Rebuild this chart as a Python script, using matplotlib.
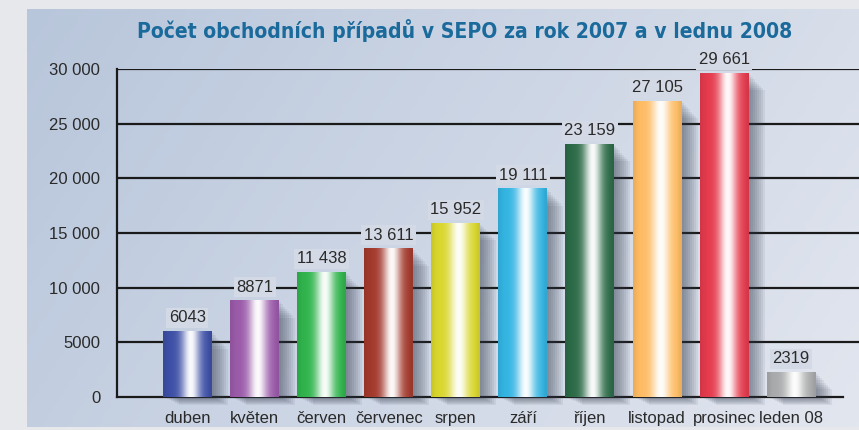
import numpy as np
import matplotlib
matplotlib.use("Agg")
import matplotlib.pyplot as plt
from matplotlib import font_manager
from matplotlib.patches import Rectangle
from matplotlib.colors import to_rgb

months = ["duben", "květen", "červen", "červenec", "srpen", "září",
          "říjen", "listopad", "prosinec", "leden 08"]
cases = [6043, 8871, 11438, 13611, 15952, 19111, 23159, 27105, 29661, 2319]
bar_colors = ["#3d4fa6", "#9a5aa9", "#2fb34c", "#a3392c", "#d9d62c",
              "#33b4e2", "#2b6a47", "#ffbb62", "#e43a4c", "#a9aaab"]
yticks = [0, 5000, 10000, 15000, 20000, 25000, 30000]
ytick_labels = ["0", "5000", "10 000", "15 000", "20 000", "25 000", "30 000"]
title = "Počet obchodních případů v SEPO za rok 2007 a v lednu 2008"


def fmt(v):
    # Czech style: space as thousands separator only for 5+ digits
    return f"{v:,}".replace(",", " ") if v >= 10000 else str(v)


def narrow_font():
    # condensed bold face for the title, whichever is installed
    for fam, stretch in [("Liberation Sans Narrow", "condensed"),
                         ("DejaVu Sans", "condensed"),
                         ("Roboto", "normal")]:
        fp = font_manager.FontProperties(family=fam, weight="bold", stretch=stretch)
        try:
            path = font_manager.findfont(fp, fallback_to_default=False)
        except ValueError:
            continue
        if stretch == "condensed" and "ondensed" not in path and "Narrow" not in path:
            continue
        return font_manager.FontProperties(fname=path), path
    return font_manager.FontProperties(family="Liberation Sans", weight="bold"), ""


plt.rcParams["font.family"] = ["Liberation Sans", "DejaVu Sans"]

fig = plt.figure(figsize=(8.59, 4.30), dpi=100)
fig.patch.set_facecolor("#e7e8eb")

# backdrop panel with a soft blue gradient
bg = fig.add_axes([27 / 859, 3 / 430, 1 - 27 / 859, 418 / 430])
gx = np.linspace(0, 1, 200)
gy = np.linspace(0, 1, 100)
GX, GY = np.meshgrid(gx, gy)
t = np.clip(0.75 * GX + 0.25 * GY, 0, 1)[..., None]
c0 = np.array(to_rgb("#b8c6db"))
c1 = np.array(to_rgb("#e2e6ef"))
bg.imshow(c0 * (1 - t) + c1 * t, aspect="auto", extent=(0, 1, 0, 1))
bg.set_axis_off()

ax = fig.add_axes([117 / 859, 33 / 430, 1 - 117 / 859, 328 / 430])
ax.patch.set_alpha(0)

for y in yticks[1:]:
    ax.axhline(y, color="#1a1a1a", lw=1.6, zorder=1)
ax.plot([-1.05, 9.77], [0, 0], color="#1a1a1a", lw=1.6, zorder=1, clip_on=False)

for s in ["top", "right", "bottom"]:
    ax.spines[s].set_visible(False)
ax.spines["left"].set_linewidth(1.6)
ax.spines["left"].set_color("#1a1a1a")

ax.set_yticks(yticks, ytick_labels)
ax.set_xticks(range(len(months)), months)
ax.tick_params(axis="y", length=0, pad=12, labelsize=12, labelcolor="#2a2a2a")
ax.tick_params(axis="x", length=0, pad=10, labelsize=12, labelcolor="#2a2a2a")

px = 1 / 67.0          # data units per pixel in x
py = 30000 / 328.0     # data units per pixel in y
width = 0.73
prof = np.linspace(0, 1, 120)
w = 0.97 * np.exp(-((prof - 0.57) / 0.19) ** 2)

for i, (v, c) in enumerate(zip(cases, bar_colors)):
    x0 = i - width / 2
    # soft shadow to the right and below
    for off in np.linspace(2, 16, 8):
        ax.add_patch(Rectangle((x0 + off * px, -off * 0.5 * py), width,
                               v - off * 0.6 * py, color="#343b4c",
                               alpha=0.08, lw=0, zorder=2, clip_on=False))
    base = np.array(to_rgb(c))
    dark = base * 0.85
    edge = np.exp(-(prof / 0.08) ** 2) + np.exp(-((1 - prof) / 0.08) ** 2)
    rgb = base * (1 - edge[:, None] * 0.5) + dark * edge[:, None] * 0.5
    rgb = rgb * (1 - w[:, None]) + w[:, None]
    img = ax.imshow(rgb[None, :, :], extent=(x0, x0 + width, 0, v),
                    aspect="auto", zorder=3, interpolation="bilinear")
    img.set_clip_path(Rectangle((x0, 0), width, v, transform=ax.transData))
    ax.text(i, v + 13 * py, fmt(v), ha="center", va="center", fontsize=12,
            color="#2a2a2a", zorder=4,
            bbox=dict(boxstyle="square,pad=0.15", fc="#d3d9e5", ec="none"))

ax.set_xlim(-1.05, 10.01)
ax.set_ylim(0, 30000)

fp, path = narrow_font()
tt = fig.text(465 / 859, 1 - 31 / 430, title, ha="center", va="center",
              fontproperties=fp, color="#1b6a9c")
tt.set_fontsize(20)
# shrink to the reference width (~656 px) if the face is too wide
fig.canvas.draw()
wpx = tt.get_window_extent().width
if wpx > 660:
    tt.set_fontsize(20 * 656 / wpx)

fig.savefig("out.png", dpi=100, facecolor=fig.get_facecolor())
